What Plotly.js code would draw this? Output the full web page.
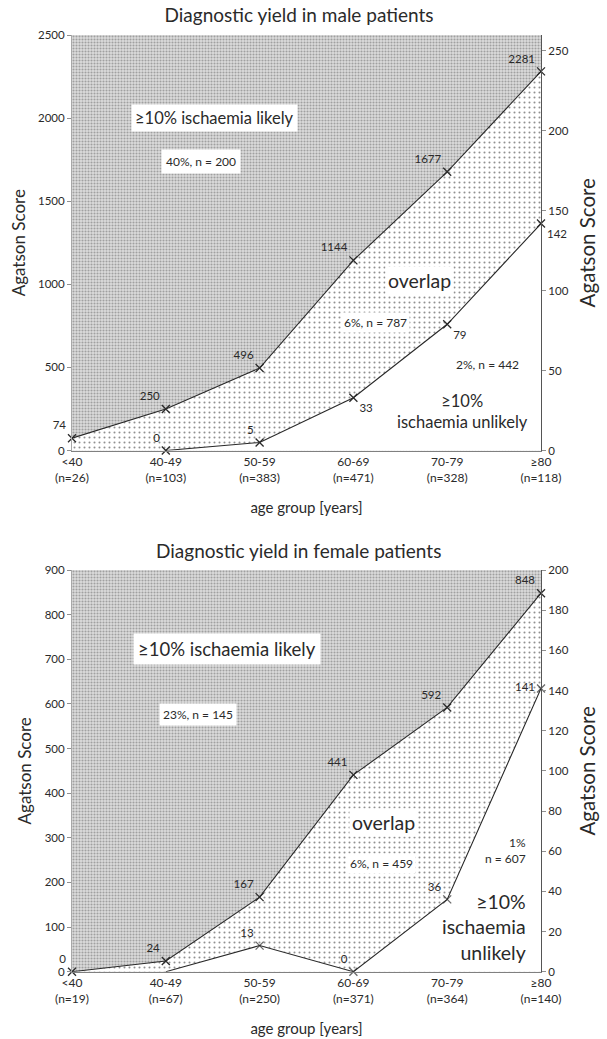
<!DOCTYPE html>
<html>
<head>
<meta charset="utf-8">
<script src="https://cdn.plot.ly/plotly-3.0.1.min.js"></script>
<style>
html,body{margin:0;padding:0;background:#ffffff;}
#chart{width:607px;height:1039px;}
</style>
</head>
<body>
<div id="chart"></div>
<script>
// ---------------- data ----------------
const ageGroups = ['<40', '40-49', '50-59', '60-69', '70-79', '≥80'];
const ageTickNames = ['&lt;40', '40-49', '50-59', '60-69', '70-79', '≥80'];
const maleN = [26, 103, 383, 471, 328, 118];
const femaleN = [19, 67, 250, 371, 364, 140];

// upper boundary (left axis) and lower boundary (right axis)
const maleHigh = [74, 250, 496, 1144, 1677, 2281];
const maleLow = [null, 0, 5, 33, 79, 142];
const femaleHigh = [0, 24, 167, 441, 592, 848];
const femaleLow = [null, 0, 13, 0, 36, 141];

const maleLeftRange = [0, 2500];
const maleRightRange = [0, 260];
const femaleLeftRange = [0, 900];
const femaleRightRange = [0, 200];

const maleTitle = 'Diagnostic yield in male patients';
const femaleTitle = 'Diagnostic yield in female patients';
const yTitle = 'Agatson Score';
const xTitle = 'age group [years]';

// ---------------- helpers ----------------
const W = 607, H = 1039;
const fx = p => p / W;
const fy = p => 1 - p / H;
const FONT = 'Lato, "Open Sans", sans-serif';
const TXT = '#2a2a2a';
const LINE = '#2a2a2a';

const darkPattern = {shape: '.', size: 3, solidity: 0.4, fgcolor: '#a0a0a0', bgcolor: '#dcdcdc', fillmode: 'replace'};
const lightPattern = {shape: '.', size: 5, solidity: 0.13, fgcolor: '#909090', bgcolor: '#ffffff', fillmode: 'replace'};

function tickText(ns) {
  return ageTickNames.map((g, i) => g + '<br>(n=' + ns[i] + ')');
}

function lineTrace(y, xa, ya, fillOpts, textpos, markerSizes, labels) {
  const t = {
    x: ageGroups, y: y, xaxis: xa, yaxis: ya,
    type: 'scatter', mode: 'lines+markers+text',
    line: {color: LINE, width: 1.1},
    marker: {symbol: 'x-thin', size: markerSizes || 8, color: LINE, line: {color: LINE, width: 1.3}},
    text: labels || y.map(v => v === null ? '' : String(v)),
    textposition: textpos,
    textfont: {family: FONT, size: 11.5, color: TXT},
    cliponaxis: false,
    hoverinfo: 'skip', showlegend: false,
    fill: 'tozeroy'
  };
  Object.assign(t, fillOpts);
  return t;
}

function backTrace(max, xa, ya) {
  return {
    x: ageGroups, y: ageGroups.map(() => max), xaxis: xa, yaxis: ya,
    type: 'scatter', mode: 'none', fill: 'tozeroy', fillpattern: darkPattern,
    fillcolor: '#dcdcdc', hoverinfo: 'skip', showlegend: false
  };
}

const data = [
  // male
  backTrace(maleLeftRange[1], 'x', 'y'),
  lineTrace(maleHigh, 'x', 'y', {fillpattern: lightPattern, fillcolor: '#ffffff'}, 'top left'),
  lineTrace(maleLow, 'x', 'y2', {fillcolor: '#ffffff'},
    ['top left', 'top left', 'top left', 'bottom right', 'bottom right', 'bottom right']),
  // female
  backTrace(femaleLeftRange[1], 'x2', 'y3'),
  lineTrace(femaleHigh, 'x2', 'y3', {fillpattern: lightPattern, fillcolor: '#ffffff'}, 'top left'),
  lineTrace(femaleLow, 'x2', 'y4', {fillcolor: '#ffffff'},
    ['top left', 'top left', 'top left', 'top left', 'top left', 'middle left'],
    femaleLow.map((v, i) => (v === null || i === 1) ? 0 : 8),
    femaleLow.map((v, i) => (v === null || i === 1) ? '' : String(v)))
];

function xAxis(anchor, ns) {
  return {
    domain: [fx(72), fx(541)], anchor: anchor, type: 'category',
    categoryorder: 'array', categoryarray: ageGroups, range: [0, 5],
    tickvals: ageGroups, ticktext: tickText(ns),
    showline: true, linecolor: '#808080', linewidth: 1, ticks: '',
    showgrid: false, zeroline: false, automargin: false, fixedrange: true,
    tickfont: {family: FONT, size: 12, color: TXT},
    title: {text: xTitle, font: {family: FONT, size: 15, color: TXT}, standoff: 18}
  };
}
function yAxis(domain, anchor, range, dtick, side, overlay, lineColor, titleSize, standoff) {
  const a = {
    domain: domain, anchor: anchor, range: range, dtick: dtick, side: side,
    showline: true, linecolor: lineColor, linewidth: 1,
    ticks: 'outside', ticklen: 4, tickcolor: '#909090',
    showgrid: false, zeroline: false, automargin: false, fixedrange: true,
    tickfont: {family: FONT, size: 11.5, color: TXT},
    title: {text: yTitle, font: {family: FONT, size: titleSize, color: TXT}, standoff: standoff}
  };
  if (overlay) { a.overlaying = overlay; delete a.domain; }
  return a;
}

const maleDom = [fy(450.5), fy(35)];
const femaleDom = [fy(971.7), fy(570)];

function ann(text, cx, cy, size, extra) {
  return Object.assign({
    text: text, x: fx(cx), y: fy(cy), xref: 'paper', yref: 'paper',
    xanchor: 'center', yanchor: 'middle', showarrow: false,
    font: {family: FONT, size: size, color: TXT}
  }, extra || {});
}
const box = pad => ({bgcolor: '#ffffff', borderpad: pad});

const annotations = [
  ann(femaleTitle, 298, 550, 19),
  // male
  ann('≥10% ischaemia likely', 214, 118, 16.5, box(3)),
  ann('40%, n = 200', 201, 161, 12, box(4)),
  ann('overlap', 419, 280, 19.5, box(2)),
  ann('6%, n = 787', 375, 322.5, 12, box(2)),
  ann('2%, n = 442', 487, 365, 12),
  ann('≥10%<br>ischaemia unlikely', 462, 411, 16.5, {align: 'center'}),
  // female
  ann('≥10% ischaemia likely', 227.5, 649, 18.5, box(4)),
  ann('23%, n = 145', 198, 714, 12, box(3)),
  ann('overlap', 383, 822, 19.5, box(2)),
  ann('6%, n = 459', 381, 863, 12, box(2)),
  ann('1%<br>n = 607', 528, 850, 12, {xanchor: 'right', align: 'right'}),
  ann('≥10%<br>ischaemia<br>unlikely', 528, 927, 19.5, {xanchor: 'right', align: 'right'})
];

const layout = {
  width: W, height: H,
  margin: {l: 0, r: 0, t: 0, b: 0, pad: 0},
  paper_bgcolor: '#ffffff', plot_bgcolor: '#ffffff',
  font: {family: FONT, color: TXT},
  showlegend: false,
  title: {text: maleTitle, x: fx(299), xanchor: 'center', y: fy(15), yanchor: 'middle',
          font: {family: FONT, size: 19, color: TXT}},
  xaxis: xAxis('y', maleN),
  yaxis: yAxis(maleDom, 'x', maleLeftRange, 500, 'left', null, '#a8a8a8', 17, 8),
  yaxis2: yAxis(maleDom, 'x', maleRightRange, 50, 'right', 'y', '#555555', 20.5, 13),
  xaxis2: xAxis('y3', femaleN),
  yaxis3: yAxis(femaleDom, 'x2', femaleLeftRange, 100, 'left', null, '#a8a8a8', 17, 8),
  yaxis4: yAxis(femaleDom, 'x2', femaleRightRange, 20, 'right', 'y3', '#555555', 20.5, 13),
  annotations: annotations
};

Plotly.newPlot('chart', data, layout, {staticPlot: true, displayModeBar: false});
</script>
</body>
</html>
